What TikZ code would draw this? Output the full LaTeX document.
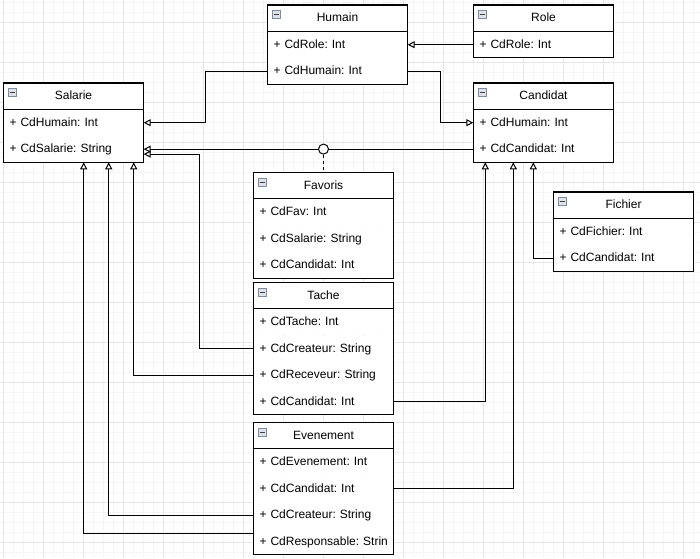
\documentclass[tikz,border=0pt]{standalone}
\usepackage{fontspec}
\setmainfont{Liberation Sans}
\usetikzlibrary{positioning,arrows.meta}
\definecolor{GridMinor}{RGB}{245,245,245}
\definecolor{GridMajor}{RGB}{230,230,230}
\definecolor{IconLine}{RGB}{125,140,160}
\definecolor{IconFill}{RGB}{222,226,232}
\frenchspacing

\begin{document}
\begin{tikzpicture}[
x=1pt,y=-1pt,
txt/.style={font=\fontsize{12}{14}\selectfont,text height=10.5pt,text depth=3pt},
icon/.style={draw=IconLine,fill=IconFill,line width=0.8pt,anchor=center,minimum size=8pt,inner sep=0pt,text height=1pt,text depth=0pt},
hdr/.style={txt,draw,fill=white,line width=1pt,minimum width=140pt,minimum height=26pt,inner sep=0pt,
  path picture={\node[icon] at ([xshift=8.5pt,yshift=-9.5pt]path picture bounding box.north west) {\color{black!75}\rule{5pt}{1pt}};}},
row/.style={txt,fill=white,text width=128pt,align=left,minimum height=26pt,inner xsep=6pt,inner ysep=0pt},
frame/.style={draw,line width=1pt},
gridminor/.style={GridMinor,line width=1pt},
gridmajor/.style={GridMajor,line width=1pt},
link/.style={line width=1pt},
inh/.style={link,-{Triangle[length=7pt,width=7pt,fill=white]}}
]
\useasboundingbox (0,0) rectangle (700,558);
% grid
\foreach \x in {3,13,...,693} \draw[gridminor] (\x,0) -- (\x,558);
\foreach \y in {2,12,...,552} \draw[gridminor] (0,\y) -- (700,\y);
\foreach \x in {3,43,...,683} \draw[gridmajor] (\x,0) -- (\x,558);
\foreach \y in {22,62,...,542} \draw[gridmajor] (0,\y) -- (700,\y);

% classes
\node[hdr,anchor=north west] (hum) at (267,4.5) {Humain};
\node[row,below=0pt of hum] (hum1) {+ CdRole: Int};
\node[row,below=0pt of hum1] (hum2) {+ CdHumain: Int};
\draw[frame] (hum.north west) rectangle (hum2.south east);

\node[hdr,anchor=north west] (role) at (473,4.5) {Role};
\node[row,below=0pt of role] (role1) {+ CdRole: Int};
\draw[frame] (role.north west) rectangle (role1.south east);

\node[hdr,anchor=north west] (sal) at (3,82.5) {Salarie};
\node[row,below=0pt of sal] (sal1) {+ CdHumain: Int};
\node[row,below=0pt of sal1] (sal2) {+ CdSalarie: String};
\draw[frame] (sal.north west) rectangle (sal2.south east);

\node[hdr,anchor=north west] (cand) at (473,82.5) {Candidat};
\node[row,below=0pt of cand] (cand1) {+ CdHumain: Int};
\node[row,below=0pt of cand1] (cand2) {+ CdCandidat: Int};
\draw[frame] (cand.north west) rectangle (cand2.south east);

\node[hdr,anchor=north west] (fav) at (253,172) {Favoris};
\node[row,below=0pt of fav] (fav1) {+ CdFav: Int};
\node[row,below=0pt of fav1] (fav2) {+ CdSalarie: String};
\node[row,below=0pt of fav2] (fav3) {+ CdCandidat: Int};
\draw[frame] (fav.north west) rectangle (fav3.south east);

\node[hdr,anchor=north west] (fich) at (553,191.5) {Fichier};
\node[row,below=0pt of fich] (fich1) {+ CdFichier: Int};
\node[row,below=0pt of fich1] (fich2) {+ CdCandidat: Int};
\draw[frame] (fich.north west) rectangle (fich2.south east);

\node[hdr,anchor=north west] (tache) at (253,282) {Tache};
\node[row,below=0pt of tache] (tache1) {+ CdTache: Int};
\node[row,below=0pt of tache1] (tache2) {+ CdCreateur: String};
\node[row,below=0pt of tache2] (tache3) {+ CdReceveur: String};
\node[row,below=0pt of tache3] (tache4) {+ CdCandidat: Int};
\draw[frame] (tache.north west) rectangle (tache4.south east);

\node[hdr,anchor=north west] (even) at (253,422) {Evenement};
\node[row,below=0pt of even] (even1) {+ CdEvenement: Int};
\node[row,below=0pt of even1] (even2) {+ CdCandidat: Int};
\node[row,below=0pt of even2] (even3) {+ CdCreateur: String};
\node[row,below=0pt of even3] (even4) {\mbox{+ CdResponsable: Strin}};
\draw[frame] (even.north west) rectangle (even4.south east);

% links
\draw[inh] (role1.west) -- (hum1.east);
\draw[inh] (hum2.west) -- ++(-62,0) |- (sal1.east);
\draw[inh] (hum2.east) -- ++(33,0) |- (cand1.west);
\node[circle,draw,fill=white,line width=1pt,minimum size=10pt,inner sep=0pt] (assoc) at (fav.north |- sal2.east) {};
\draw[link] (cand2.west) -- (assoc);
\draw[inh] (assoc) -- (sal2.east);
\draw[link,dash pattern=on 3pt off 3pt] (assoc) -- (fav.north);
\draw[inh] (tache2.west) -- ++(-54,0) |- ([yshift=-5pt]sal2.east);
\draw[inh] (tache3.west) -| ([xshift=-10pt]sal2.south east);
\draw[inh] (even3.west) -| ([xshift=-35pt]sal2.south east);
\draw[inh] ([yshift=8pt]even4.west) -| ([xshift=-60pt]sal2.south east);
\draw[inh] (tache4.east) -| ([xshift=12pt]cand2.south west);
\draw[inh] (even2.east) -| ([xshift=40pt]cand2.south west);
\draw[inh] (fich2.west) -| ([xshift=60pt]cand2.south west);
\end{tikzpicture}
\end{document}
